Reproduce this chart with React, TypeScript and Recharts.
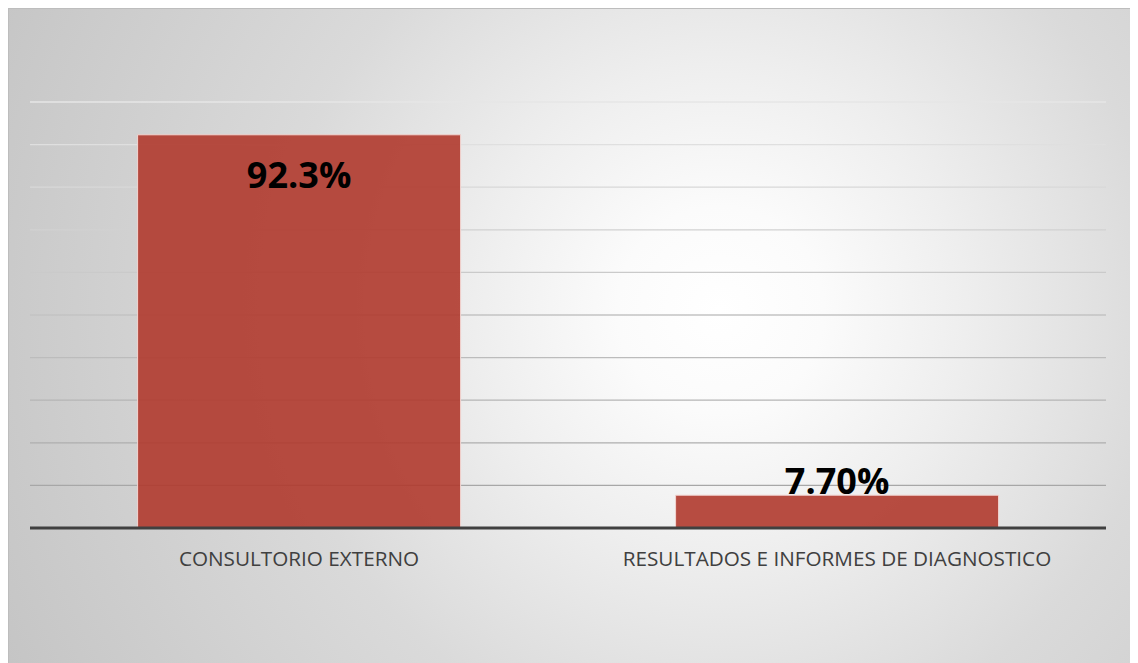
import { BarChart, Bar, XAxis, YAxis, CartesianGrid, LabelList } from "recharts";

const categories = ["CONSULTORIO EXTERNO", "RESULTADOS E INFORMES DE DIAGNOSTICO"];
const values = [92.3, 7.7];
const valueLabels = ["92.3%", "7.70%"];
const yTicks = [0, 10, 20, 30, 40, 50, 60, 70, 80, 90, 100];

const data = categories.map((name, i) => ({ name, value: values[i], label: valueLabels[i] }));

const FONT = "'Open Sans', 'Liberation Sans', sans-serif";

// Excel style: first label sits inside the top of the tall bar, the small one just above its bar
const renderLabel = (props: any) => {
  const { x, y, width, index, value } = props;
  const inside = index === 0;
  return (
    <text
      x={x + width / 2}
      y={inside ? y + 53 : y - 1}
      textAnchor="middle"
      fontFamily={FONT}
      fontWeight={700}
      fontSize={36}
      fill="#000"
    >
      {value}
    </text>
  );
};

export default function App() {
  return (
    <div
      style={{
        width: 1130,
        height: 655,
        boxSizing: "border-box",
        borderTop: "1px solid #bdbdbd",
        borderLeft: "1px solid #bdbdbd",
        background:
          "radial-gradient(circle farthest-corner at 63% 46%, #ffffff 0%, #fbfbfb 13%, #eeeeee 31%, #dadada 56%, #c5c5c5 100%)",
      }}
    >
      <style>{`html,body{overflow:hidden}`}</style>
      <BarChart
        width={1129}
        height={654}
        data={data}
        margin={{ top: 93, right: 32, left: 21, bottom: 95 }}
        barCategoryGap="20%"
      >
        <defs>
          <linearGradient id="gridGrad" gradientUnits="userSpaceOnUse" x1="0" y1="93" x2="0" y2="519">
            <stop offset="0%" stopColor="#e6e6e6" />
            <stop offset="100%" stopColor="#a0a0a0" />
          </linearGradient>
        </defs>
        <CartesianGrid vertical={false} stroke="url(#gridGrad)" strokeWidth={1.3} />
        <YAxis hide domain={[0, 100]} ticks={yTicks} />
        <XAxis
          dataKey="name"
          height={40}
          tickLine={false}
          tickMargin={17}
          axisLine={{ stroke: "#404040", strokeWidth: 3 }}
          tick={{ fill: "#404040", fontSize: 20.7, fontFamily: FONT }}
        />
        <Bar
          dataKey="value"
          fill="#b03a2e"
          fillOpacity={0.9}
          stroke="#f2d6d2"
          strokeWidth={1}
          isAnimationActive={false}
        >
          <LabelList dataKey="label" content={renderLabel} />
        </Bar>
      </BarChart>
    </div>
  );
}
